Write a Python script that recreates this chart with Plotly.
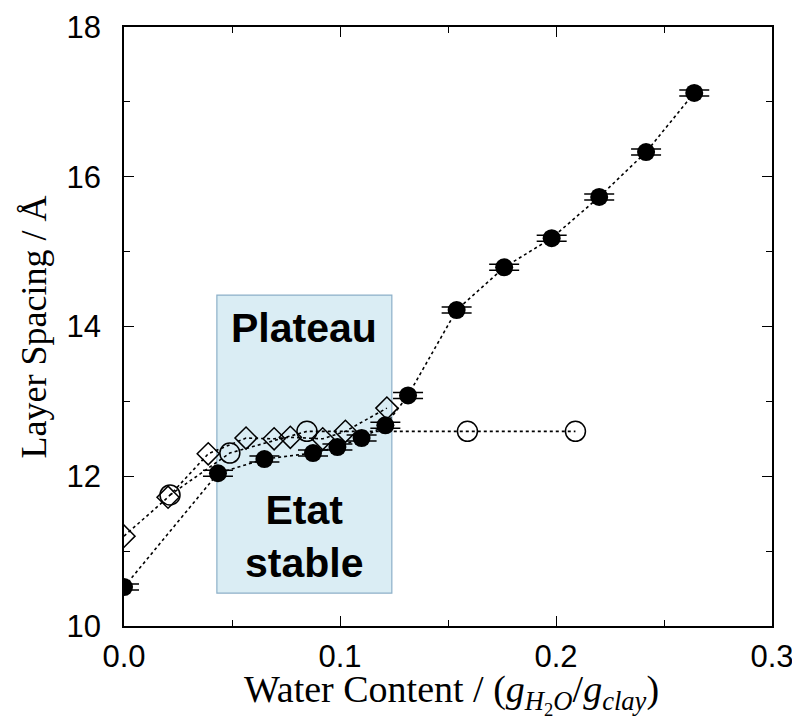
import plotly.graph_objects as go

# Filled circles (with error bars)
filled_x = [0.0, 0.0435, 0.065, 0.0875, 0.0988, 0.110, 0.121, 0.1315, 0.154, 0.176, 0.198, 0.220, 0.2417, 0.264]
filled_y = [10.52, 12.04, 12.23, 12.31, 12.39, 12.51, 12.68, 13.08, 14.22, 14.79, 15.18, 15.73, 16.33, 17.12]
filled_err = [0.04] * len(filled_x)

# Open diamonds
diam_x = [0.0, 0.0204, 0.039, 0.0565, 0.0695, 0.077, 0.092, 0.1025, 0.1217]
diam_y = [11.20, 11.72, 12.30, 12.51, 12.50, 12.52, 12.50, 12.60, 12.91]

# Open circles
circ_x = [0.0213, 0.049, 0.0847, 0.159, 0.209]
circ_y = [11.75, 12.31, 12.60, 12.60, 12.60]

x_ticks = [0.0, 0.1, 0.2, 0.3]
x_ticklabels = ["0.0", "0.1", "0.2", "0.3"]
y_ticks = [10, 12, 14, 16, 18]
y_ticklabels = ["10", "12", "14", "16", "18"]

# Highlight box and labels
box_x = [0.043, 0.124]
box_y = [10.44, 14.42]
label_top = "Plateau"
label_bottom = "Etat<br>stable"

fig = go.Figure()

line_style = dict(color="black", width=1.6, dash="dot")

fig.add_trace(go.Scatter(
    x=diam_x, y=diam_y, mode="lines+markers",
    line=line_style,
    marker=dict(symbol="diamond-open", size=17, color="black", line=dict(width=1.5, color="black")),
    showlegend=False,
))
fig.add_trace(go.Scatter(
    x=circ_x, y=circ_y, mode="lines+markers",
    line=line_style,
    marker=dict(symbol="circle-open", size=20, color="black", line=dict(width=1.5, color="black")),
    showlegend=False,
))
fig.add_trace(go.Scatter(
    x=filled_x, y=filled_y, mode="lines+markers",
    line=line_style,
    marker=dict(symbol="circle", size=18, color="black"),
    error_y=dict(type="data", array=filled_err, visible=True, color="black", thickness=1.5, width=15),
    showlegend=False,
))

fig.add_shape(
    type="rect", xref="x", yref="y",
    x0=box_x[0], x1=box_x[1], y0=box_y[0], y1=box_y[1],
    fillcolor="rgb(218,237,244)", line=dict(color="rgb(140,175,200)", width=1.2),
    layer="below",
)

text_font = dict(family="Liberation Sans, Arial, sans-serif", size=41, color="black")
cx = (box_x[0] + box_x[1]) / 2
fig.add_annotation(x=cx, y=13.98, xref="x", yref="y", text="<b>" + label_top + "</b>",
                   showarrow=False, font=text_font)
fig.add_annotation(x=cx, y=11.2, xref="x", yref="y", text="<b>" + label_bottom + "</b>",
                   showarrow=False, font=text_font)

serif_family = "Liberation Serif, Times New Roman, serif"
fig.add_annotation(
    x=(451 - 124) / 648, y=(626 - 694) / 599, xref="paper", yref="paper",
    text="Water Content / (<i>g</i><sub><i>H</i><sub>2</sub><i>O</i></sub>/<i>g</i><sub><i>clay</i></sub>)",
    showarrow=False, font=dict(family=serif_family, size=38, color="black"),
    xanchor="center", yanchor="middle",
)
fig.add_annotation(
    x=(33 - 124) / 648, y=0.5, xref="paper", yref="paper",
    text="Layer Spacing / Å", textangle=-90,
    showarrow=False, font=dict(family=serif_family, size=36, color="black"),
    xanchor="center", yanchor="middle",
)

axis_common = dict(
    showline=True, linecolor="black", linewidth=1.5, mirror="allticks",
    ticks="inside", ticklen=10, tickwidth=1.3, tickcolor="black",
    showgrid=False, zeroline=False, automargin=False,
    tickfont=dict(family="Liberation Sans, Arial, sans-serif", size=31, color="black"),
)

fig.update_xaxes(
    range=[0, 0.3], tickvals=x_ticks, ticktext=x_ticklabels,
    minor=dict(ticks="inside", ticklen=6, tickwidth=1.2, tickcolor="black", dtick=0.05, showgrid=False),
    ticklabelstandoff=2,
    **axis_common,
)
fig.update_yaxes(
    range=[10, 18], tickvals=y_ticks, ticktext=y_ticklabels,
    minor=dict(ticks="inside", ticklen=6, tickwidth=1.2, tickcolor="black", dtick=1, showgrid=False),
    ticklabelstandoff=15,
    **axis_common,
)

# page body adds an 8px offset; compensate so the plot area sits where it should
fig.update_layout(
    width=792, height=709,
    margin=dict(l=116, r=28, t=19, b=91),
    plot_bgcolor="white", paper_bgcolor="white",
)

fig.write_html("out.html")
